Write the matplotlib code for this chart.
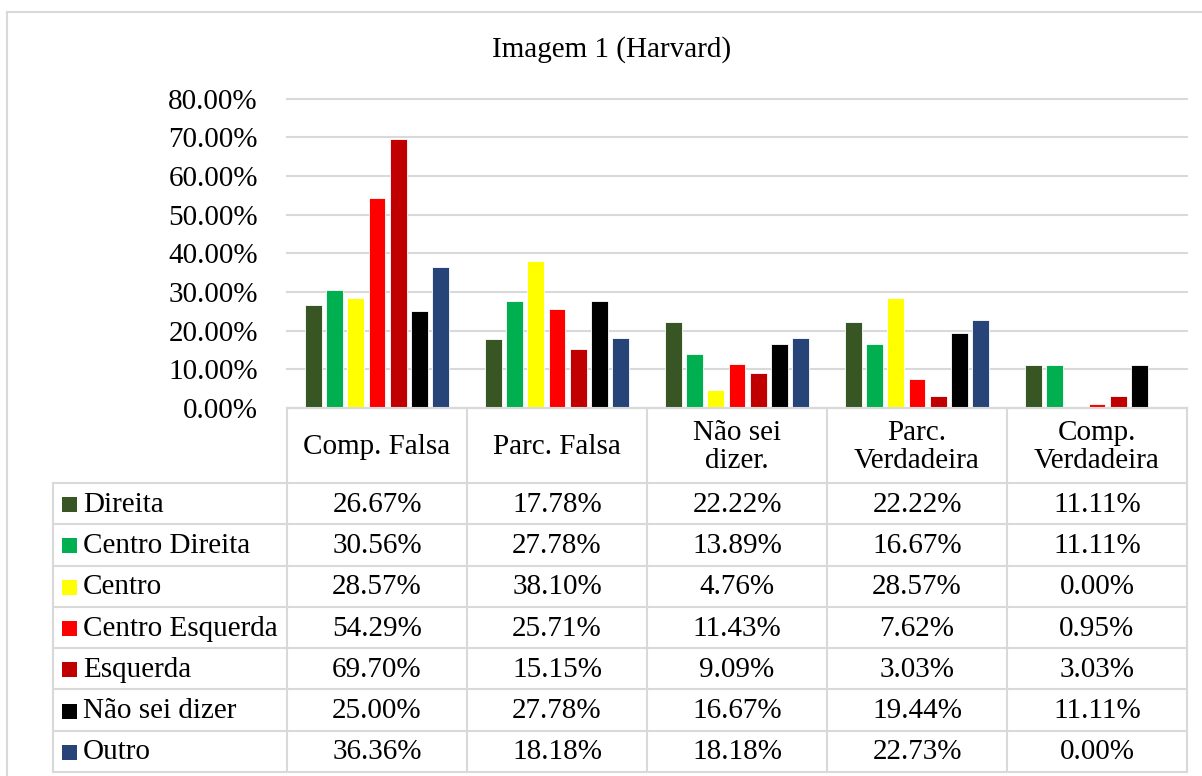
import matplotlib
matplotlib.use("Agg")
import matplotlib.pyplot as plt
import matplotlib.transforms as mtransforms
from matplotlib.patches import Rectangle
from matplotlib.lines import Line2D

# ---- data ----
title = "Imagem 1 (Harvard)"
categories = ["Comp. Falsa", "Parc. Falsa", "Não sei\ndizer.", "Parc.\nVerdadeira", "Comp.\nVerdadeira"]
series_names = ["Direita", "Centro Direita", "Centro", "Centro Esquerda", "Esquerda", "Não sei dizer", "Outro"]
direita = [26.67, 17.78, 22.22, 22.22, 11.11]
centro_direita = [30.56, 27.78, 13.89, 16.67, 11.11]
centro = [28.57, 38.10, 4.76, 28.57, 0.00]
centro_esquerda = [54.29, 25.71, 11.43, 7.62, 0.95]
esquerda = [69.70, 15.15, 9.09, 3.03, 3.03]
nao_sei = [25.00, 27.78, 16.67, 19.44, 11.11]
outro = [36.36, 18.18, 18.18, 22.73, 0.00]
series_values = [direita, centro_direita, centro, centro_esquerda, esquerda, nao_sei, outro]
colors = ["#375623", "#00B050", "#FFFF00", "#FF0000", "#C00000", "#000000", "#264478"]
yticks = [0, 10, 20, 30, 40, 50, 60, 70, 80]

W, H = 1202, 776
FONT = "Liberation Serif"
FS = 21
GRID = "#D9D9D9"

fig = plt.figure(figsize=(W / 100, H / 100), dpi=100)
fig.patch.set_facecolor("white")
px = mtransforms.Affine2D().scale(1 / W, -1 / H).translate(0, 1) + fig.transFigure

# outer chart border (top and left visible)
fig.add_artist(Line2D([7, 1210], [11.5, 11.5], transform=px, color=GRID, lw=1.5))
fig.add_artist(Line2D([7, 7], [11.5, 790], transform=px, color=GRID, lw=1.5))

# axes
x0, x1 = 287, 1187
ytop, ybot = 98.7, 408
ax = fig.add_axes([x0 / W, 1 - ybot / H, (x1 - x0) / W, (ybot - ytop) / H])
n = len(series_names)
step, width = 0.118, 0.093
for j, (name, vals, col) in enumerate(zip(series_names, series_values, colors)):
    xs = [i + (j - (n - 1) / 2) * step for i in range(len(categories))]
    ax.bar(xs, [v / 100 for v in vals], width=width, color=col,
           edgecolor="white", linewidth=0.6, zorder=3)
ax.set_xlim(-0.5, len(categories) - 0.5)
ax.set_ylim(0, 0.8)
ax.set_yticks([t / 100 for t in yticks])
ax.set_yticklabels([f"{t:.2f}%" for t in yticks], fontfamily=FONT, fontsize=FS)
ax.tick_params(axis="y", length=0, pad=21)
ax.set_xticks([])
ax.yaxis.grid(True, color=GRID, lw=1.5, zorder=0)
for gl in ax.get_ygridlines():
    gl.set_clip_on(False)
for s in ["left", "right", "top"]:
    ax.spines[s].set_visible(False)
ax.spines["bottom"].set_color(GRID)
ax.spines["bottom"].set_linewidth(1.5)

# title
fig.text(612, 50, title, transform=px, ha="center", va="center",
         fontfamily=FONT, fontsize=FS)

# data table
col_edges = [287 + 180 * k for k in range(len(categories) + 1)]
tleft = 53
head_top, head_bot = 408, 483
row_h = (772 - 483) / n
row_edges = [head_bot + row_h * r for r in range(n + 1)]

lines = []
lines.append(([x0, x1], [head_top, head_top]))
for y in row_edges:
    lines.append(([tleft, x1], [y, y]))
lines.append(([tleft, tleft], [head_bot, row_edges[-1]]))
for x in col_edges:
    lines.append(([x, x], [head_top, row_edges[-1]]))
for xs_, ys_ in lines:
    fig.add_artist(Line2D(xs_, ys_, transform=px, color=GRID, lw=1.5))

# header labels
for k, cat in enumerate(categories):
    cx = (col_edges[k] + col_edges[k + 1]) / 2
    fig.text(cx, (head_top + head_bot) / 2 + 1.5, cat, transform=px, ha="center",
             va="center", fontfamily=FONT, fontsize=FS, linespacing=1.12)

# rows
for r, (name, vals, col) in enumerate(zip(series_names, series_values, colors)):
    cy = (row_edges[r] + row_edges[r + 1]) / 2
    fig.add_artist(Rectangle((62, cy - 7.5 + 1), 15, 15, transform=px,
                             facecolor=col, edgecolor="none"))
    fig.text(83, cy + 1, name, transform=px, ha="left", va="center",
             fontfamily=FONT, fontsize=FS)
    for k, v in enumerate(vals):
        cx = (col_edges[k] + col_edges[k + 1]) / 2
        fig.text(cx, cy + 1, f"{v:.2f}%", transform=px, ha="center", va="center",
                 fontfamily=FONT, fontsize=FS)

fig.savefig("out.png", dpi=100, facecolor="white")
